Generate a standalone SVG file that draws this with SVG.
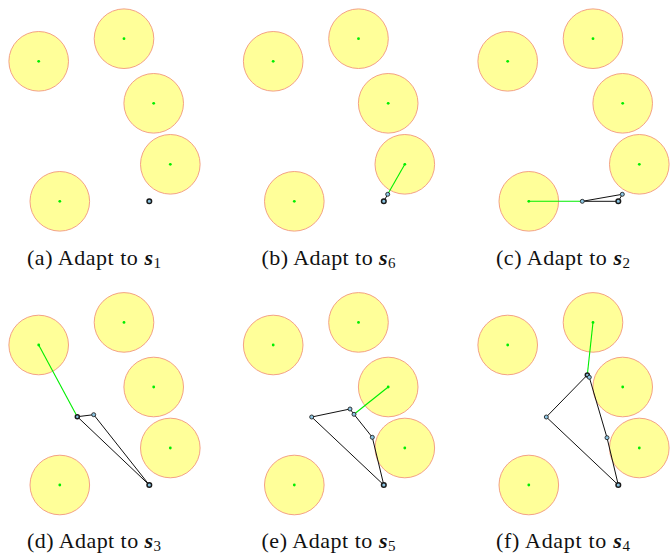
<svg xmlns="http://www.w3.org/2000/svg" xmlns:xlink="http://www.w3.org/1999/xlink" width="670" height="554" viewBox="0 0 670 554">
<style>
.obs{fill:#ffff99;stroke:#f4a285;stroke-width:1}
.ctr{fill:#00ee00;stroke:none}
.gl{stroke:#00ee00;stroke-width:1.1;fill:none}
.bl{stroke:#111;stroke-width:1;fill:none;stroke-linejoin:round}
.nd{fill:#8cc6e4;stroke:#222;stroke-width:0.9}
.st{fill:#8cc6e4;stroke:#1a1a1a;stroke-width:1.5}
.cap{font-family:"Liberation Serif","DejaVu Serif",serif;font-size:22px;fill:#111}
.m{font-weight:bold;font-style:italic}
.sub{font-size:15px}
</style>
<defs>
<g id="field">
<g id="c1"><circle class="obs" cx="38.7" cy="61.3" r="29.8"/><circle class="ctr" cx="38.7" cy="61.3" r="1.4"/></g>
<g id="c2"><circle class="obs" cx="124" cy="38.7" r="29.8"/><circle class="ctr" cx="124" cy="38.7" r="1.4"/></g>
<g id="c3"><circle class="obs" cx="153.7" cy="103.3" r="29.8"/><circle class="ctr" cx="153.7" cy="103.3" r="1.4"/></g>
<g id="c4"><circle class="obs" cx="170.3" cy="164.3" r="29.8"/><circle class="ctr" cx="170.3" cy="164.3" r="1.4"/></g>
<g id="c5"><circle class="obs" cx="59.8" cy="201.3" r="29.8"/><circle class="ctr" cx="59.8" cy="201.3" r="1.4"/></g>
</g>
</defs>

<g id="panel-a">
<use xlink:href="#field" href="#field"/>
<g id="a-nodes"><circle id="a-s" class="st" cx="149.3" cy="201.3" r="2.3"/></g>
<text class="cap" x="27" y="264.5" textLength="134" lengthAdjust="spacing">(a) Adapt to <tspan class="m">s</tspan><tspan class="sub" dy="3">1</tspan></text>
</g>

<g id="panel-b" transform="translate(234.5,0)">
<use xlink:href="#field" href="#field"/>
<g id="b-connectors">
<line class="gl" x1="170.3" y1="164.3" x2="153.2" y2="194.3"/>
<line class="bl" x1="153.2" y1="194.3" x2="149.3" y2="201.3"/>
</g>
<g id="b-nodes">
<circle class="nd" cx="153.2" cy="194.3" r="2"/>
<circle class="st" cx="149.3" cy="201.3" r="2.3"/>
</g>
<text class="cap" x="27" y="264.5" textLength="134" lengthAdjust="spacing">(b) Adapt to <tspan class="m">s</tspan><tspan class="sub" dy="3">6</tspan></text>
</g>

<g id="panel-c" transform="translate(469,0)">
<use xlink:href="#field" href="#field"/>
<g id="c-connectors">
<line class="gl" x1="59.8" y1="201.3" x2="113.3" y2="201.3"/>
<polygon class="bl" points="113.3,201.3 153.3,194.3 149.3,201.3"/>
</g>
<g id="c-nodes">
<circle class="nd" cx="113.3" cy="201.3" r="2"/>
<circle class="nd" cx="153.3" cy="194.3" r="2"/>
<circle class="st" cx="149.3" cy="201.3" r="2.3"/>
</g>
<text class="cap" x="27" y="264.5" textLength="134" lengthAdjust="spacing">(c) Adapt to <tspan class="m">s</tspan><tspan class="sub" dy="3">2</tspan></text>
</g>

<g id="panel-d" transform="translate(0,283.7)">
<use xlink:href="#field" href="#field"/>
<g id="d-connectors">
<line class="gl" x1="38.7" y1="61.3" x2="77.3" y2="133"/>
<polygon class="bl" points="77.3,133 93.7,131 149.3,201.3"/>
</g>
<g id="d-nodes">
<circle class="st" cx="77.3" cy="133" r="2"/>
<circle class="nd" cx="93.7" cy="131" r="2"/>
<circle class="st" cx="149.3" cy="201.3" r="2.3"/>
</g>
<text class="cap" x="27" y="264.5" textLength="134" lengthAdjust="spacing">(d) Adapt to <tspan class="m">s</tspan><tspan class="sub" dy="3">3</tspan></text>
</g>

<g id="panel-e" transform="translate(234.5,283.7)">
<use xlink:href="#field" href="#field"/>
<g id="e-connectors">
<line class="gl" x1="153.7" y1="103.3" x2="119.5" y2="130.6"/>
<polygon class="bl" points="77.2,133.3 115.5,125.3 119.5,130.6 137.8,153.6 149.3,201.3"/>
</g>
<g id="e-nodes">
<circle class="nd" cx="77.2" cy="133.3" r="2"/>
<circle class="nd" cx="115.5" cy="125.3" r="2"/>
<circle class="nd" cx="119.5" cy="130.6" r="2"/>
<circle class="nd" cx="137.8" cy="153.6" r="2"/>
<circle class="st" cx="149.3" cy="201.3" r="2.3"/>
</g>
<text class="cap" x="27" y="264.5" textLength="134" lengthAdjust="spacing">(e) Adapt to <tspan class="m">s</tspan><tspan class="sub" dy="3">5</tspan></text>
</g>

<g id="panel-f" transform="translate(469,283.7)">
<use xlink:href="#field" href="#field"/>
<g id="f-connectors">
<line class="gl" x1="124" y1="38.7" x2="118.3" y2="91.3"/>
<polygon class="bl" points="77.3,133.3 118.3,91.3 120.3,93.6 138,154 149.3,201.3"/>
</g>
<g id="f-nodes">
<circle class="nd" cx="77.3" cy="133.3" r="2"/>
<circle class="st" cx="118.3" cy="91.3" r="2"/>
<circle class="nd" cx="120.3" cy="93.6" r="2"/>
<circle class="nd" cx="138" cy="154" r="2"/>
<circle class="st" cx="149.3" cy="201.3" r="2.3"/>
</g>
<text class="cap" x="27" y="264.5" textLength="134" lengthAdjust="spacing">(f) Adapt to <tspan class="m">s</tspan><tspan class="sub" dy="3">4</tspan></text>
</g>
</svg>
